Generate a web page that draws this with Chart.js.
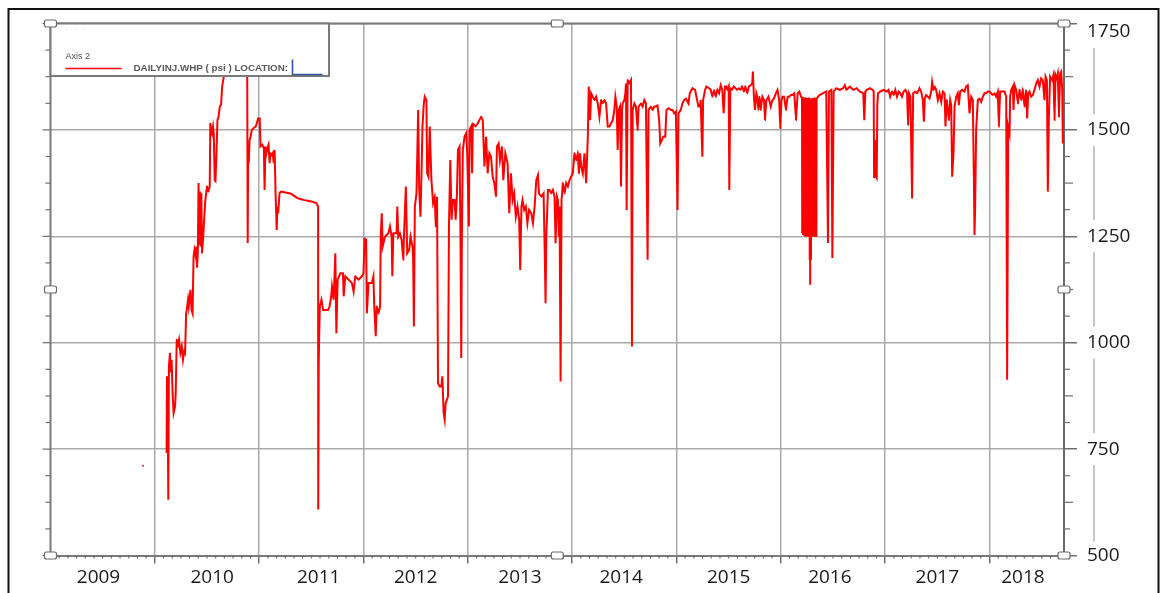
<!DOCTYPE html>
<html lang="en">
<head>
<meta charset="UTF-8">
<title>DAILYINJ.WHP</title>
<script src="https://cdn.jsdelivr.net/npm/chart.js"></script>
<style>
  body { margin: 0; background: #fff; }
  canvas { display: block; }
</style>
</head>
<body>
<canvas id="whpChart" width="1160" height="593"></canvas>
<script>
// daily injection WHP: [decimal year, psi]
const stray2009 = [[2009.882, 710], [2009.892, 712]];

const whp2010_11 = [
  [2010.113, 741], [2010.116, 921], [2010.122, 900], [2010.129, 631], [2010.135, 944], [2010.145, 976],
  [2010.152, 930], [2010.161, 960], [2010.170, 882], [2010.180, 835], [2010.194, 850], [2010.200, 882],
  [2010.210, 1007], [2010.220, 991], [2010.232, 1007], [2010.245, 976], [2010.258, 991], [2010.270, 960],
  [2010.282, 980], [2010.290, 976], [2010.300, 1069], [2010.306, 1077], [2010.318, 1101], [2010.325, 1085],
  [2010.335, 1109], [2010.342, 1124], [2010.352, 1077], [2010.362, 1069], [2010.371, 1202], [2010.380, 1218],
  [2010.390, 1205], [2010.398, 1226], [2010.405, 1176], [2010.412, 1210], [2010.419, 1375], [2010.426, 1230],
  [2010.432, 1355], [2010.440, 1226], [2010.446, 1351], [2010.452, 1210], [2010.462, 1242], [2010.475, 1300],
  [2010.484, 1335], [2010.500, 1367], [2010.513, 1355], [2010.526, 1367], [2010.532, 1516], [2010.540, 1500],
  [2010.548, 1492], [2010.558, 1508], [2010.565, 1490], [2010.574, 1382], [2010.581, 1380], [2010.590, 1437],
  [2010.600, 1523], [2010.610, 1530], [2010.623, 1555], [2010.635, 1560], [2010.645, 1602], [2010.661, 1625],
  [2010.680, 1690], [2010.720, 1710], [2010.760, 1700], [2010.800, 1720], [2010.840, 1705], [2010.880, 1690],
  [2010.885, 1680], [2010.890, 1234], [2010.895, 1461], [2010.900, 1422], [2010.908, 1476], [2010.918, 1484],
  [2010.930, 1500], [2010.950, 1505], [2010.968, 1508], [2010.990, 1527], [2011.005, 1527], [2011.013, 1461],
  [2011.030, 1465], [2011.045, 1457], [2011.052, 1359], [2011.060, 1461], [2011.070, 1445], [2011.080, 1457],
  [2011.090, 1465], [2011.100, 1422], [2011.108, 1445], [2011.120, 1440], [2011.130, 1445], [2011.140, 1422],
  [2011.148, 1453], [2011.158, 1343], [2011.168, 1265], [2011.175, 1320], [2011.182, 1304], [2011.195, 1351],
  [2011.210, 1355], [2011.250, 1353], [2011.306, 1350], [2011.371, 1339], [2011.435, 1335], [2011.500, 1332],
  [2011.548, 1328], [2011.565, 1320], [2011.566, 608], [2011.571, 952], [2011.574, 1000], [2011.581, 1085],
  [2011.597, 1101], [2011.613, 1077], [2011.640, 1077], [2011.661, 1077], [2011.675, 1085], [2011.690, 1108],
  [2011.698, 1132], [2011.714, 1101], [2011.730, 1210], [2011.740, 1022], [2011.752, 1148], [2011.778, 1163],
  [2011.803, 1163], [2011.810, 1109], [2011.825, 1156], [2011.857, 1148], [2011.889, 1140], [2011.905, 1120],
  [2011.921, 1156], [2011.952, 1148], [2011.984, 1156]
];

const whp2012_13 = [
  [2012.000, 1163], [2012.010, 1245], [2012.025, 1242], [2012.032, 1069], [2012.048, 1140], [2012.079, 1140],
  [2012.095, 1156], [2012.102, 1093], [2012.117, 1015], [2012.127, 1085], [2012.143, 1069], [2012.159, 1085],
  [2012.165, 1249], [2012.175, 1304], [2012.184, 1226], [2012.206, 1249], [2012.238, 1257], [2012.254, 1273],
  [2012.270, 1249], [2012.276, 1156], [2012.286, 1257], [2012.317, 1257], [2012.324, 1320], [2012.333, 1249],
  [2012.349, 1257], [2012.365, 1242], [2012.381, 1195], [2012.387, 1242], [2012.397, 1312], [2012.406, 1367],
  [2012.419, 1210], [2012.438, 1218], [2012.451, 1249], [2012.470, 1226], [2012.476, 1195], [2012.483, 1038],
  [2012.492, 1320], [2012.508, 1351], [2012.524, 1547], [2012.533, 1367], [2012.546, 1296], [2012.556, 1398],
  [2012.565, 1508], [2012.578, 1562], [2012.587, 1578], [2012.603, 1570], [2012.610, 1398], [2012.622, 1390],
  [2012.635, 1508], [2012.651, 1382], [2012.667, 1328], [2012.683, 1343], [2012.692, 1273], [2012.705, 1343],
  [2012.714, 905], [2012.730, 897], [2012.746, 897], [2012.756, 921], [2012.768, 835], [2012.778, 819],
  [2012.787, 858], [2012.800, 866], [2012.810, 874], [2012.819, 1273], [2012.832, 1429], [2012.844, 1289],
  [2012.857, 1335], [2012.873, 1335], [2012.883, 1289], [2012.895, 1343], [2012.905, 1453], [2012.921, 1461],
  [2012.930, 1226], [2012.937, 964], [2012.943, 1249], [2012.952, 1453], [2012.968, 1484], [2012.984, 1492],
  [2012.994, 1445], [2013.010, 1273], [2013.016, 1500], [2013.032, 1508], [2013.041, 1398], [2013.048, 1515],
  [2013.073, 1508], [2013.095, 1515], [2013.111, 1523], [2013.127, 1531], [2013.143, 1523], [2013.159, 1414],
  [2013.175, 1484], [2013.190, 1398], [2013.206, 1445], [2013.222, 1437], [2013.238, 1390], [2013.254, 1375],
  [2013.270, 1343], [2013.279, 1461], [2013.295, 1468], [2013.308, 1429], [2013.327, 1461], [2013.340, 1382],
  [2013.359, 1445], [2013.381, 1422], [2013.397, 1304], [2013.413, 1398], [2013.429, 1335], [2013.444, 1351],
  [2013.460, 1296], [2013.476, 1320], [2013.492, 1289], [2013.502, 1171], [2013.514, 1320], [2013.524, 1335],
  [2013.540, 1312], [2013.556, 1320], [2013.571, 1281], [2013.587, 1312], [2013.608, 1304], [2013.624, 1281],
  [2013.640, 1320], [2013.656, 1382], [2013.672, 1394], [2013.682, 1351], [2013.704, 1343], [2013.726, 1351],
  [2013.736, 1226], [2013.745, 1093], [2013.752, 1249], [2013.768, 1359], [2013.783, 1359], [2013.799, 1351],
  [2013.815, 1359], [2013.831, 1343], [2013.841, 1234], [2013.854, 1343], [2013.863, 1335], [2013.873, 1249],
  [2013.879, 1320], [2013.889, 909], [2013.898, 1335], [2013.911, 1375], [2013.927, 1351], [2013.943, 1375],
  [2013.959, 1367], [2013.975, 1382], [2013.990, 1390]
];

const whp2014_15 = [
  [2014.006, 1398], [2014.022, 1445], [2014.038, 1429], [2014.054, 1445], [2014.064, 1398], [2014.076, 1445],
  [2014.086, 1414], [2014.102, 1398], [2014.118, 1445], [2014.134, 1375], [2014.150, 1484], [2014.159, 1602],
  [2014.172, 1523], [2014.182, 1586], [2014.197, 1578], [2014.213, 1570], [2014.229, 1578], [2014.245, 1562],
  [2014.261, 1531], [2014.277, 1570], [2014.293, 1562], [2014.309, 1570], [2014.325, 1562], [2014.341, 1508],
  [2014.357, 1508], [2014.373, 1515], [2014.389, 1523], [2014.404, 1547], [2014.414, 1578], [2014.427, 1555],
  [2014.436, 1453], [2014.446, 1547], [2014.459, 1555], [2014.468, 1367], [2014.478, 1547], [2014.484, 1562],
  [2014.500, 1570], [2014.510, 1586], [2014.516, 1609], [2014.522, 1312], [2014.532, 1617], [2014.548, 1609],
  [2014.564, 1617], [2014.573, 991], [2014.580, 1547], [2014.596, 1562], [2014.611, 1555], [2014.627, 1500],
  [2014.637, 1555], [2014.659, 1562], [2014.675, 1555], [2014.691, 1570], [2014.707, 1562], [2014.723, 1195],
  [2014.732, 1547], [2014.755, 1555], [2014.771, 1547], [2014.787, 1555], [2014.803, 1555], [2014.818, 1558],
  [2014.834, 1523], [2014.844, 1468], [2014.860, 1476], [2014.873, 1484], [2014.892, 1484], [2014.904, 1547],
  [2014.924, 1551], [2014.946, 1547], [2014.962, 1547], [2014.978, 1539], [2014.994, 1543], [2015.010, 1312],
  [2015.019, 1539], [2015.041, 1547], [2015.057, 1562], [2015.073, 1570], [2015.089, 1574], [2015.115, 1562],
  [2015.127, 1586], [2015.153, 1598], [2015.178, 1594], [2015.191, 1578], [2015.210, 1555], [2015.223, 1555],
  [2015.232, 1570], [2015.242, 1484], [2015.248, 1437], [2015.255, 1570], [2015.274, 1594], [2015.287, 1602],
  [2015.312, 1598], [2015.328, 1594], [2015.344, 1578], [2015.360, 1594], [2015.376, 1578], [2015.392, 1594],
  [2015.408, 1586], [2015.424, 1605], [2015.439, 1594], [2015.452, 1539], [2015.465, 1602], [2015.478, 1602],
  [2015.487, 1594], [2015.500, 1602], [2015.506, 1359], [2015.516, 1598], [2015.532, 1594], [2015.548, 1602],
  [2015.565, 1598], [2015.581, 1594], [2015.597, 1598], [2015.613, 1594], [2015.629, 1602], [2015.645, 1590],
  [2015.661, 1602], [2015.677, 1586], [2015.694, 1602], [2015.710, 1605], [2015.726, 1609], [2015.732, 1637],
  [2015.742, 1578], [2015.752, 1547], [2015.765, 1586], [2015.774, 1578], [2015.784, 1547], [2015.797, 1578],
  [2015.806, 1547], [2015.823, 1578], [2015.839, 1570], [2015.848, 1523], [2015.861, 1570], [2015.881, 1578],
  [2015.903, 1555], [2015.919, 1570], [2015.935, 1574], [2015.952, 1586], [2015.968, 1594], [2015.984, 1570],
  [2015.994, 1504]
];

const whp2016_18 = [
  [2016.006, 1570], [2016.016, 1578], [2016.032, 1578], [2016.048, 1547], [2016.065, 1578], [2016.081, 1578],
  [2016.097, 1582], [2016.113, 1582], [2016.129, 1586], [2016.145, 1523], [2016.161, 1586], [2016.177, 1590],
  [2016.194, 1578],
  // shut-in cycling, spring 2016
  [2016.203, 1574], [2016.205, 1257], [2016.207, 1578], [2016.209, 1262], [2016.211, 1570], [2016.213, 1253],
  [2016.215, 1576], [2016.217, 1266], [2016.219, 1572], [2016.221, 1257], [2016.223, 1568], [2016.225, 1251],
  [2016.227, 1574], [2016.229, 1359], [2016.231, 1570], [2016.233, 1255], [2016.235, 1577], [2016.237, 1249],
  [2016.239, 1566], [2016.241, 1253], [2016.243, 1574], [2016.245, 1249], [2016.247, 1571], [2016.249, 1258],
  [2016.251, 1569], [2016.253, 1250], [2016.255, 1575], [2016.257, 1252], [2016.259, 1567], [2016.261, 1249],
  [2016.263, 1573], [2016.265, 1251], [2016.267, 1570], [2016.269, 1249], [2016.271, 1576], [2016.273, 1253],
  [2016.275, 1568], [2016.277, 1195], [2016.279, 1572], [2016.281, 1136], [2016.283, 1570], [2016.285, 1249],
  [2016.287, 1574], [2016.289, 1195], [2016.291, 1566], [2016.293, 1251], [2016.295, 1573], [2016.297, 1249],
  [2016.299, 1569], [2016.301, 1252], [2016.303, 1575], [2016.305, 1249], [2016.307, 1570], [2016.309, 1250],
  [2016.311, 1567], [2016.313, 1253], [2016.315, 1574], [2016.317, 1249], [2016.319, 1571], [2016.321, 1251],
  [2016.323, 1576], [2016.325, 1249], [2016.327, 1568], [2016.329, 1253], [2016.331, 1573], [2016.333, 1249],
  [2016.335, 1570], [2016.337, 1252], [2016.339, 1575], [2016.341, 1249], [2016.343, 1570], [2016.345, 1574],
  [2016.371, 1582], [2016.403, 1586], [2016.435, 1590], [2016.452, 1234],
  [2016.461, 1590], [2016.484, 1594], [2016.494, 1199], [2016.506, 1590], [2016.532, 1598], [2016.565, 1594],
  [2016.597, 1598], [2016.613, 1605], [2016.629, 1594], [2016.661, 1602], [2016.694, 1594], [2016.726, 1598],
  [2016.758, 1590], [2016.790, 1586], [2016.800, 1523], [2016.810, 1590], [2016.823, 1594], [2016.855, 1598],
  [2016.881, 1594], [2016.890, 1590], [2016.894, 1387], [2016.900, 1395], [2016.906, 1476], [2016.912, 1390],
  [2016.919, 1387], [2016.925, 1560], [2016.932, 1586], [2016.952, 1590], [2016.984, 1594], [2017.016, 1590],
  [2017.032, 1594], [2017.048, 1578], [2017.065, 1590], [2017.081, 1582], [2017.097, 1594], [2017.113, 1578],
  [2017.129, 1590], [2017.145, 1586], [2017.161, 1578], [2017.177, 1590], [2017.194, 1594], [2017.210, 1586],
  [2017.219, 1512], [2017.229, 1586], [2017.242, 1578], [2017.258, 1339], [2017.268, 1586], [2017.290, 1590],
  [2017.306, 1586], [2017.323, 1594], [2017.329, 1598], [2017.345, 1590], [2017.361, 1570], [2017.371, 1519],
  [2017.380, 1574], [2017.393, 1582], [2017.409, 1578], [2017.425, 1574], [2017.441, 1590], [2017.450, 1613],
  [2017.463, 1594], [2017.473, 1602], [2017.489, 1594], [2017.505, 1570], [2017.521, 1586], [2017.537, 1566],
  [2017.553, 1590], [2017.569, 1586], [2017.578, 1508], [2017.591, 1570], [2017.610, 1523], [2017.623, 1570],
  [2017.633, 1558], [2017.642, 1390], [2017.655, 1445], [2017.665, 1555], [2017.681, 1578], [2017.696, 1586],
  [2017.706, 1558], [2017.719, 1590], [2017.738, 1594], [2017.760, 1590], [2017.776, 1602], [2017.792, 1605],
  [2017.808, 1539], [2017.824, 1578], [2017.840, 1570], [2017.850, 1390], [2017.856, 1253], [2017.862, 1312],
  [2017.872, 1500], [2017.888, 1570], [2017.904, 1574], [2017.920, 1566], [2017.936, 1578], [2017.952, 1586],
  [2017.968, 1586], [2017.984, 1590], [2018.000, 1590], [2018.016, 1586], [2018.032, 1582], [2018.048, 1586],
  [2018.064, 1578], [2018.080, 1590], [2018.089, 1508], [2018.102, 1590], [2018.128, 1590], [2018.144, 1590],
  [2018.160, 1578], [2018.169, 913], [2018.179, 1508], [2018.192, 1492], [2018.198, 1578], [2018.208, 1594],
  [2018.224, 1602], [2018.230, 1547], [2018.240, 1605], [2018.256, 1594], [2018.272, 1562], [2018.288, 1594],
  [2018.304, 1570], [2018.319, 1594], [2018.335, 1555], [2018.351, 1594], [2018.361, 1527], [2018.371, 1586],
  [2018.383, 1590], [2018.399, 1578], [2018.415, 1582], [2018.431, 1594], [2018.447, 1609], [2018.463, 1617],
  [2018.479, 1602], [2018.495, 1621], [2018.511, 1617], [2018.527, 1570], [2018.537, 1625], [2018.550, 1617],
  [2018.559, 1355], [2018.569, 1531], [2018.581, 1625], [2018.601, 1617], [2018.613, 1629], [2018.623, 1523],
  [2018.633, 1629], [2018.645, 1621], [2018.655, 1633], [2018.665, 1531], [2018.677, 1633], [2018.687, 1637],
  [2018.697, 1594], [2018.703, 1468]
];

// axis: year gridlines and where each year label sits
const yearLines = [2010, 2011, 2012, 2013, 2014, 2015, 2016, 2017, 2018];
const yearLabels = ['2009', '2010', '2011', '2012', '2013', '2014', '2015', '2016', '2017', '2018'];
const yearLabelPos = [2009.46, 2010.55, 2011.57, 2012.5, 2013.5, 2014.47, 2015.5, 2016.47, 2017.5, 2018.32];
const seriesName = 'DAILYINJ.WHP ( psi ) LOCATION:';

const points = [];
stray2009.forEach(p => points.push({ x: p[0], y: p[1] }));
points.push({ x: 2009.95, y: null });
[whp2010_11, whp2012_13, whp2014_15, whp2016_18].forEach(seg => {
  seg.forEach(p => points.push({ x: p[0], y: p[1] }));
});

Chart.defaults.font.family = "'Open Sans', 'DejaVu Sans', sans-serif";

const frameGray = '#7a7a7a';
const gridGray = '#a9a9a9';

function handle(ctx, cx, cy) {
  ctx.beginPath();
  ctx.roundRect(cx - 6, cy - 3.5, 12, 7, 2);
  ctx.fillStyle = '#fff';
  ctx.fill();
  ctx.lineWidth = 1.2;
  ctx.strokeStyle = '#6a6a6a';
  ctx.stroke();
}

function line(ctx, x1, y1, x2, y2) {
  ctx.beginPath();
  ctx.moveTo(x1, y1);
  ctx.lineTo(x2, y2);
  ctx.stroke();
}

const decor = {
  id: 'decor',
  beforeDraw(chart) {
    const ctx = chart.ctx;
    ctx.save();
    ctx.fillStyle = '#fff';
    ctx.fillRect(0, 0, chart.width, chart.height);
    ctx.restore();
  },
  afterDraw(chart) {
    const { ctx, chartArea: a, scales: { x, y } } = chart;
    ctx.save();

    // left and top edges of the plot
    ctx.strokeStyle = frameGray;
    ctx.lineWidth = 2;
    ctx.beginPath();
    ctx.moveTo(a.left, a.bottom);
    ctx.lineTo(a.left, a.top);
    ctx.lineTo(a.right, a.top);
    ctx.stroke();

    // minor ticks on both vertical axes
    ctx.lineWidth = 1.2;
    ctx.strokeStyle = '#6f6f6f';
    for (let v = 500; v <= 1750; v += 62.5) {
      const py = y.getPixelForValue(v);
      const major = v % 250 === 0;
      line(ctx, a.left - (major ? 8 : 5), py, a.left, py);
      if (!major) line(ctx, a.right, py, a.right + (v % 125 === 0 ? 9 : 6), py);
    }
    // monthly ticks under the time axis
    for (let m = 1; 2009 + m / 12 < x.max; m++) {
      if (m % 12 === 0) continue;
      const px = x.getPixelForValue(2009 + m / 12);
      line(ctx, px, a.bottom, px, a.bottom + 3);
    }

    // light separators between the right-hand labels
    ctx.strokeStyle = '#c6c6c6';
    ctx.lineWidth = 2;
    const centres = [];
    for (let v = 1750; v >= 500; v -= 250) centres.push(y.getPixelForValue(v));
    centres[0] += 8.5;
    centres[centres.length - 1] += 2;
    for (let i = 0; i < centres.length - 1; i++) {
      line(ctx, a.right + 30, centres[i] + 16, a.right + 30, centres[i + 1] - 16);
    }

    // legend box
    const lx = a.left, ly = a.top, lw = 329 - a.left, lh = 52.5;
    ctx.fillStyle = '#fff';
    ctx.fillRect(lx, ly, lw, lh);
    ctx.strokeStyle = frameGray;
    ctx.lineWidth = 2;
    ctx.strokeRect(lx, ly, lw, lh);
    ctx.fillStyle = '#d8d8e8';
    ctx.fillRect(lx + 15, ly + 5, 2, 1);
    ctx.fillRect(lx + 24, ly + 5, 2, 1);
    ctx.fillRect(lx + 33, ly + 5, 2, 1);
    ctx.fillStyle = '#4d4d4d';
    ctx.font = "9px 'Liberation Sans', Arial, sans-serif";
    ctx.textBaseline = 'middle';
    ctx.fillText('Axis 2', lx + 15, ly + 33);
    ctx.strokeStyle = '#ff0000';
    ctx.lineWidth = 1.6;
    line(ctx, lx + 15, ly + 45, lx + 71, ly + 45);
    ctx.fillStyle = '#5a5a5a';
    ctx.font = "bold 9.8px 'Liberation Sans', Arial, sans-serif";
    ctx.fillText(chart.data.datasets[0].label, lx + 83, ly + 45);
    ctx.strokeStyle = '#3553a3';
    ctx.lineWidth = 1.6;
    ctx.beginPath();
    ctx.moveTo(lx + 242, ly + 36);
    ctx.lineTo(lx + 242, ly + 51);
    ctx.lineTo(lx + 272, ly + 51);
    ctx.stroke();

    // selection handles
    const mx = (a.left + a.right) / 2, my = (a.top + a.bottom) / 2;
    [[a.left, a.top], [mx, a.top], [a.right, a.top], [a.left, my], [a.right, my],
     [a.left, a.bottom], [mx, a.bottom], [a.right, a.bottom]].forEach(p => handle(ctx, p[0], p[1]));

    // outer black frame
    ctx.strokeStyle = '#111';
    ctx.lineWidth = 2;
    ctx.strokeRect(8.5, 9, 1150, 600);
    ctx.restore();
  }
};

new Chart(document.getElementById('whpChart'), {
  type: 'line',
  data: {
    datasets: [{
      label: seriesName,
      data: points,
      borderColor: '#ff0000',
      borderWidth: 2,
      pointRadius: 0,
      // a hair of tension keeps Chart.js off its per-pixel fast path,
      // so the dense shut-in cycling draws as a solid block
      tension: 0.0001,
      spanGaps: false
    }]
  },
  options: {
    responsive: false,
    animation: false,
    devicePixelRatio: 1,
    layout: { padding: { left: 50.5, top: 23.5, right: 0, bottom: 0 } },
    plugins: { legend: { display: false }, tooltip: { enabled: false } },
    scales: {
      x: {
        type: 'linear',
        position: 'bottom',
        min: 2009,
        max: 2018.714,
        afterBuildTicks: s => {
          s.ticks = yearLines.concat(yearLabelPos).sort((p, q) => p - q).map(v => ({ value: v }));
        },
        afterFit: s => { s.height = 37.5; },
        border: { color: frameGray, width: 2 },
        grid: {
          color: c => Number.isInteger(c.tick.value) ? gridGray : 'rgba(0,0,0,0)',
          tickColor: c => Number.isInteger(c.tick.value) ? '#6f6f6f' : 'rgba(0,0,0,0)',
          lineWidth: 1.5,
          tickLength: 8
        },
        ticks: {
          autoSkip: false,
          maxRotation: 0,
          padding: 3,
          color: '#1a1a1a',
          font: { size: 19 },
          callback: v => {
            const i = yearLabelPos.indexOf(v);
            return i < 0 ? '' : yearLabels[i];
          }
        }
      },
      y: {
        position: 'right',
        min: 500,
        max: 1750,
        afterFit: s => { s.width = 96; s.paddingTop = 0; s.paddingBottom = 0; },
        border: { color: '#6a6a6a', width: 2 },
        grid: { color: gridGray, tickColor: '#6f6f6f', lineWidth: 1.5, tickLength: 13 },
        ticks: {
          stepSize: 250,
          padding: 10,
          color: '#1a1a1a',
          font: { size: 19, lineHeight: 0.9 },
          callback: v => v === 1750 ? ['', '1750'] : String(v)
        }
      }
    }
  },
  plugins: [decor]
});
</script>
</body>
</html>
